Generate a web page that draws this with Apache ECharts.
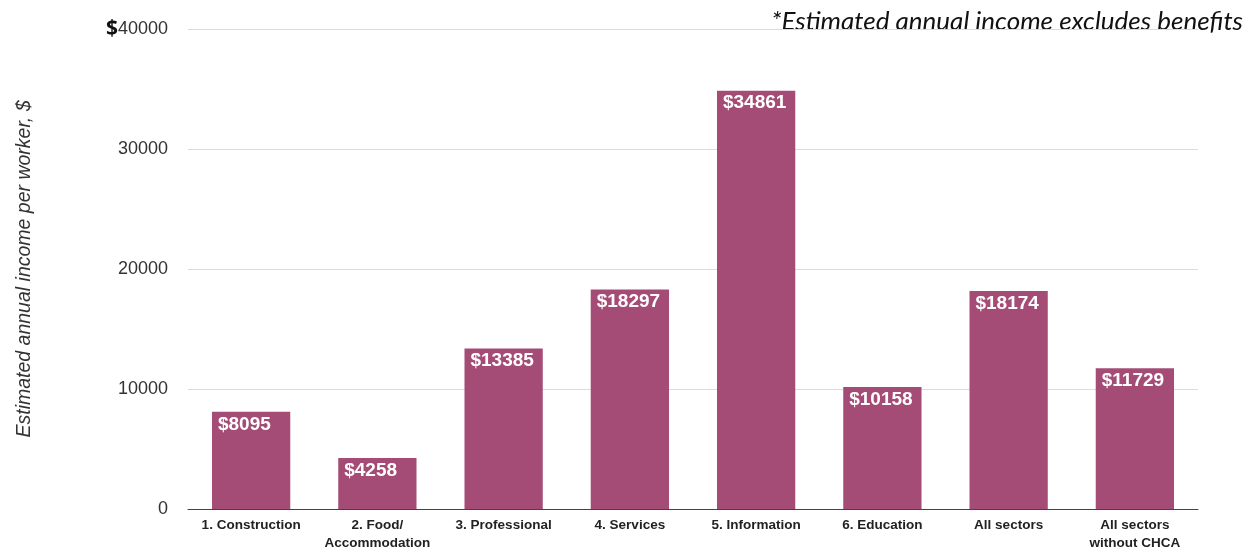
<!DOCTYPE html>
<html>
<head>
<meta charset="utf-8">
<script src="https://cdn.jsdelivr.net/npm/echarts@6/dist/echarts.min.js"></script>
<style>
  html, body { margin: 0; padding: 0; background: #fff; }
  #chart { width: 1258px; height: 548px; }
</style>
</head>
<body>
<div id="chart"></div>
<script>
// Sector categories and estimated annual income per worker
const categories = [
  '1. Construction',
  '2. Food/\nAccommodation',
  '3. Professional',
  '4. Services',
  '5. Information',
  '6. Education',
  'All sectors',
  'All sectors\nwithout CHCA'
];
const incomes = [8095, 4258, 13385, 18297, 34861, 10158, 18174, 11729];
const yTicks = [0, 10000, 20000, 30000, 40000];

const chart = echarts.init(document.getElementById('chart'));

chart.setOption({
  animation: false,
  backgroundColor: '#ffffff',
  grid: {
    left: 188, right: 60, top: 29, bottom: 39,
    containLabel: false,
    outerBoundsMode: 'none'
  },
  graphic: [{
    type: 'text',
    right: 15,
    top: 9,
    style: {
      text: '*Estimated annual income excludes benefits',
      font: 'italic 26px Lato, "Open Sans", sans-serif',
      fill: '#111'
    }
  }],
  xAxis: {
    type: 'category',
    data: categories,
    axisTick: { show: false },
    axisLine: { lineStyle: { color: '#444', width: 1 } },
    axisLabel: {
      interval: 0,
      margin: 7,
      fontFamily: 'Liberation Sans, Arial, sans-serif',
      fontWeight: 'bold',
      fontSize: 13.5,
      lineHeight: 18,
      color: '#222'
    }
  },
  yAxis: {
    type: 'value',
    min: yTicks[0],
    max: yTicks[yTicks.length - 1],
    interval: 10000,
    name: 'Estimated annual income per worker, $',
    nameLocation: 'middle',
    nameGap: 153,
    nameTextStyle: {
      fontFamily: 'Liberation Sans, Arial, sans-serif',
      fontStyle: 'italic',
      fontSize: 19.5,
      color: '#333'
    },
    axisLine: { show: false },
    axisTick: { show: false },
    splitLine: { lineStyle: { color: '#dcdcdc', width: 1 } },
    axisLabel: {
      margin: 20,
      fontFamily: 'Liberation Sans, Arial, sans-serif',
      fontSize: 18,
      color: '#333',
      formatter: function (v) {
        return v === yTicks[yTicks.length - 1] ? '{d|$}' + v : String(v);
      },
      rich: {
        d: {
          fontFamily: '"Open Sans", sans-serif',
          fontWeight: 'bold',
          fontSize: 21,
          color: '#111'
        }
      }
    }
  },
  series: [{
    type: 'bar',
    data: incomes,
    barWidth: '62%',
    itemStyle: { color: '#a54c76' },
    label: {
      show: true,
      position: 'insideTopLeft',
      distance: 3,
      offset: [3, 0],
      formatter: function (p) { return '$' + p.value; },
      fontFamily: 'Liberation Sans, Arial, sans-serif',
      fontWeight: 'bold',
      fontSize: 19,
      color: '#ffffff'
    }
  }]
});
</script>
</body>
</html>
